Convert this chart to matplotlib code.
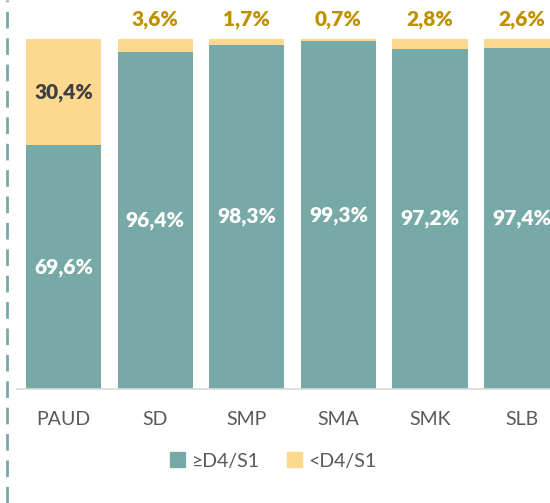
import matplotlib.pyplot as plt
from matplotlib.lines import Line2D
from matplotlib.patches import Patch

plt.rcParams['font.family'] = ['Lato', 'DejaVu Sans']

categories = ["PAUD", "SD", "SMP", "SMA", "SMK", "SLB"]
high = [69.6, 96.4, 98.3, 99.3, 97.2, 97.4]
low = [30.4, 3.6, 1.7, 0.7, 2.8, 2.6]
high_labels = ["69,6%", "96,4%", "98,3%", "99,3%", "97,2%", "97,4%"]
low_labels = ["30,4%", "3,6%", "1,7%", "0,7%", "2,8%", "2,6%"]

teal = "#77A9A6"
yellow = "#FDD990"
gold = "#BF9000"
grey = "#595959"

fig = plt.figure(figsize=(5.5, 5.03), dpi=100)
ax = fig.add_axes([17 / 550, (503 - 389) / 503, 1 - 17 / 550, 350 / 503])

x = list(range(len(categories)))
ax.bar(x, high, width=0.82, color=teal)
ax.bar(x, low, width=0.82, bottom=high, color=yellow)

for i in x:
    ax.text(i, high[i] / 2, high_labels[i], ha="center", va="center",
            color="white", fontsize=15, fontweight="heavy")
    if low[i] > 10:
        ax.text(i, high[i] + low[i] / 2, low_labels[i], ha="center", va="center",
                color="#404040", fontsize=15, fontweight="heavy")
    else:
        ax.text(i, 105.5, low_labels[i], ha="center", va="center",
                color=gold, fontsize=15, fontweight="heavy", clip_on=False)

ax.set_xlim(-0.51, 5.31)
ax.set_ylim(0, 100)
ax.set_xticks(x)
ax.set_xticklabels(categories, fontsize=14, color=grey)
ax.tick_params(axis="x", length=0, pad=16)
ax.set_yticks([])
for s in ["top", "right", "left"]:
    ax.spines[s].set_visible(False)
ax.spines["bottom"].set_color("#D9D9D9")
ax.spines["bottom"].set_linewidth(1.2)

handles = [Patch(color=teal, label="≥D4/S1"), Patch(color=yellow, label="<D4/S1")]
fig.legend(handles=handles, loc="center", bbox_to_anchor=(273 / 550, 1 - 461 / 503),
           ncol=2, frameon=False, fontsize=14, labelcolor=grey,
           handlelength=0.8, handleheight=0.8, handletextpad=0.3, columnspacing=1.4)

fig.add_artist(Line2D([7 / 550, 7 / 550], [0, 1], color=teal, linewidth=2,
                      linestyle=(0, (6, 3.5))))

fig.savefig("out.png", dpi=100)
